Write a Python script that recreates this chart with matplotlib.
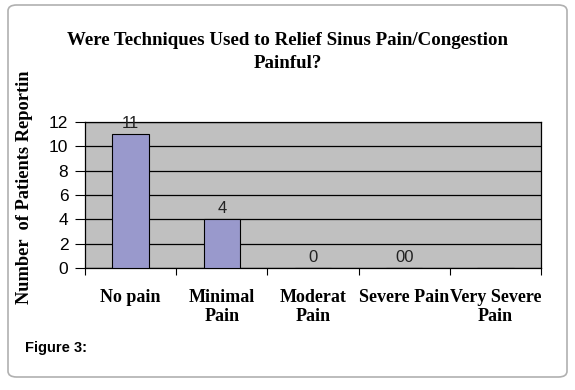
import matplotlib.pyplot as plt
from matplotlib.patches import FancyBboxPatch

categories = ["No pain", "Minimal\nPain", "Moderat\nPain", "Severe Pain", "Very Severe\nPain"]
patients = [11, 4, 0, 0, 0]
value_labels = ["11", "4", "0", "00", ""]
yticks = [0, 2, 4, 6, 8, 10, 12]

fig = plt.figure(figsize=(5.75, 3.9), dpi=100)

# rounded frame round the whole figure
frame = FancyBboxPatch((8 / 575, 13 / 390), 559 / 575, 372 / 390,
                       boxstyle="round,pad=0,rounding_size=0.015",
                       transform=fig.transFigure, facecolor="none",
                       edgecolor="#b0b0b0", linewidth=1.2, zorder=-1)
fig.patches.append(frame)

ax = fig.add_axes([85 / 575, 1 - 268 / 390, 456 / 575, 146 / 390])
ax.set_facecolor("#c0c0c0")

x = range(len(categories))
ax.bar(x, patients, width=0.4, color="#9999cc", edgecolor="black", linewidth=0.8, zorder=3)

for xi, v, lab in zip(x, patients, value_labels):
    ax.text(xi, v + 0.25, lab, ha="center", va="bottom", fontsize=12,
            family="Liberation Sans", color="#222222", zorder=4)

ax.set_xlim(-0.5, len(categories) - 0.5)
ax.set_ylim(0, 12)
ax.set_yticks(yticks)
ax.set_yticklabels([str(t) for t in yticks], fontsize=12.5, family="Liberation Sans")
ax.yaxis.grid(True, color="black", linewidth=0.9, zorder=1)
ax.set_axisbelow(True)

ax.set_xticks([i - 0.5 for i in range(len(categories) + 1)], minor=False)
ax.set_xticklabels([])
ax.set_xticks(list(x), minor=True)
ax.set_xticklabels(categories, minor=True, fontsize=13, family="Liberation Serif",
                   fontweight="bold", linespacing=1.2)
ax.tick_params(axis="x", which="minor", length=0, pad=15)
ax.tick_params(axis="x", which="major", length=5, direction="out", color="black")
ax.tick_params(axis="y", length=7, direction="out", color="black", pad=5)

for s in ax.spines.values():
    s.set_color("black")
    s.set_linewidth(0.9)

ax.set_ylabel("Number  of Patients Reportin", fontsize=13.2, family="Liberation Serif",
              fontweight="bold")
ax.yaxis.set_label_coords(-0.114, 0.555)

fig.text(0.5, 1 - 52 / 390, "Were Techniques Used to Relief Sinus Pain/Congestion\nPainful?",
         ha="center", va="center", fontsize=13.6, family="Liberation Serif",
         fontweight="bold", linespacing=1.45)

fig.text(25 / 575, 1 - 348 / 390, "Figure 3:", ha="left", va="center", fontsize=10.5,
         family="Liberation Sans", fontweight="bold")

plt.savefig("out.png", dpi=100)
